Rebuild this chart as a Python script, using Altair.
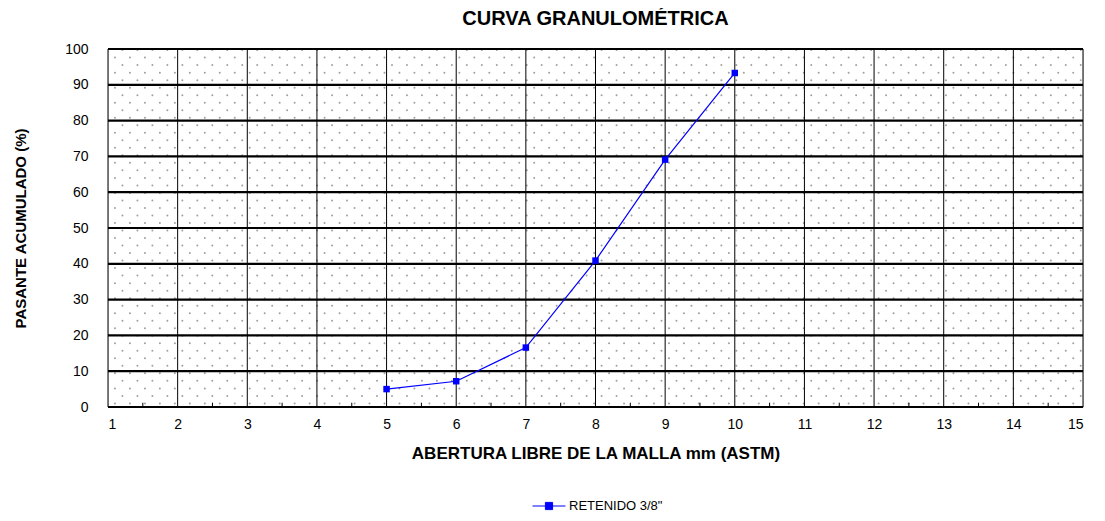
import altair as alt
import pandas as pd
import numpy as np

abertura = [5, 6, 7, 8, 9, 10]
pasante = [5.0, 7.2, 16.6, 40.9, 69.1, 93.3]
serie = 'RETENIDO 3/8"'

x_ticks = list(range(1, 16))
y_ticks = list(range(0, 101, 10))
minor_x = [v + 0.5 for v in range(1, 15)]

df = pd.DataFrame({"x": abertura, "y": pasante, "s": [serie] * len(abertura)})

# decorative dot pattern of the plot background
dots = []
for j, yy in enumerate(np.arange(1.0, 100, 2.1)):
    off = 0.0 if j % 2 == 0 else 0.1075
    for xx in np.arange(1.1 + off, 15, 0.215):
        dots.append({"x": xx, "y": yy})
dots_df = pd.DataFrame(dots)

xs = alt.Scale(domain=[1, 15], nice=False)
ys = alt.Scale(domain=[0, 100], nice=False)

font = "Liberation Sans"

x_axis = alt.Axis(
    title="ABERTURA LIBRE DE LA MALLA mm (ASTM)", values=x_ticks, format="d",
    grid=False, ticks=False, domain=False, labelPadding=10, labelOverlap=False,
    labelFont=font, labelFontSize=14, labelColor="black",
    titleFont=font, titleFontSize=17, titleFontWeight="bold", titleColor="black",
    titlePadding=14,
)
y_axis = alt.Axis(
    title="PASANTE ACUMULADO (%)", values=y_ticks, format="d",
    grid=False, ticks=False, domain=False, labelPadding=20, labelOverlap=False,
    labelFont=font, labelFontSize=14, labelColor="black",
    titleFont=font, titleFontSize=15, titleFontWeight="bold", titleColor="black",
    titlePadding=36,
)

dot_layer = alt.Chart(dots_df).mark_circle(size=4, color="#a0a0a0", opacity=1).encode(
    x=alt.X("x:Q", scale=xs, axis=x_axis), y=alt.Y("y:Q", scale=ys, axis=y_axis)
)

vgrid = alt.Chart(pd.DataFrame({"x": x_ticks})).mark_rule(color="black", strokeWidth=1).encode(
    x=alt.X("x:Q", scale=xs, axis=x_axis)
)
hgrid = alt.Chart(pd.DataFrame({"y": y_ticks})).mark_rule(color="black", strokeWidth=2.2).encode(
    y=alt.Y("y:Q", scale=ys, axis=y_axis)
)
minor = alt.Chart(pd.DataFrame({"x": minor_x, "y0": [0] * len(minor_x), "y1": [1.2] * len(minor_x)})).mark_rule(
    color="black", strokeWidth=1
).encode(x=alt.X("x:Q", scale=xs, axis=x_axis), y=alt.Y("y0:Q", scale=ys, axis=y_axis), y2="y1:Q")

color = alt.Color(
    "s:N",
    scale=alt.Scale(domain=[serie], range=["#0000ff"]),
    legend=alt.Legend(
        title=None,
        orient="none",
        legendX=430,
        legendY=446,
        symbolType="M-1.6,0L1.6,0M-0.35,-0.35L0.35,-0.35L0.35,0.35L-0.35,0.35Z",
        symbolSize=425,
        symbolStrokeWidth=1,
        labelOffset=9,
        labelFont=font,
        labelFontSize=13,
        labelColor="black",
    ),
)

line = alt.Chart(df).mark_line(
    color="#0000ff", strokeWidth=1.2,
    point=alt.OverlayMarkDef(shape="square", size=42, filled=True, color="#0000ff"),
).encode(
    x=alt.X("x:Q", scale=xs, axis=x_axis),
    y=alt.Y("y:Q", scale=ys, axis=y_axis),
    color=color,
)

chart = alt.layer(dot_layer, vgrid, hgrid, minor, line).properties(
    width=975,
    height=358,
    title=alt.TitleParams(
        "CURVA GRANULOMÉTRICA", font=font, fontSize=20, fontWeight="bold", color="black",
        anchor="middle", offset=13,
    ),
    autosize=alt.AutoSizeParams(type="none"),
    padding={"left": 100, "top": 41, "right": 14, "bottom": 106},
).configure_view(stroke="black", strokeWidth=1.5).configure(background="white")

chart.save("out.html", embed_options={"renderer": "svg", "actions": False})
